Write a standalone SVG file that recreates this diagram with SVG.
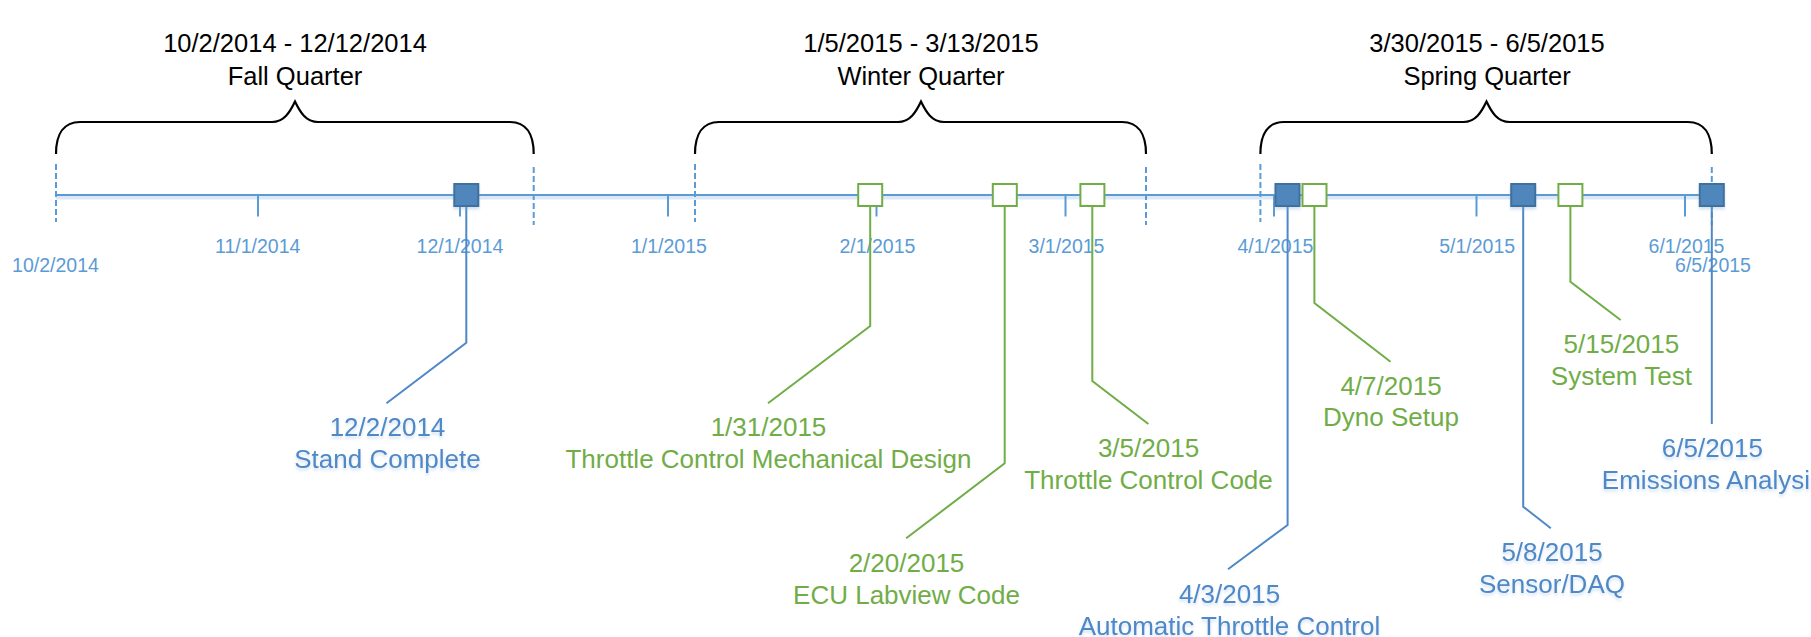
<svg xmlns="http://www.w3.org/2000/svg" width="1811" height="637" viewBox="0 0 1811 637">
<defs>
<filter id="sh" x="-10%" y="-30%" width="120%" height="180%">
<feDropShadow dx="0" dy="2.5" stdDeviation="1.6" flood-color="#7FA7D6" flood-opacity="0.35"/>
</filter>
<style>
.axis{stroke:#5B9BD5;stroke-width:2;fill:none}
.tick{stroke:#5B9BD5;stroke-width:2}
.dash{stroke:#5B9BD5;stroke-width:2;stroke-dasharray:6 3}
.brace{stroke:#000;stroke-width:2.2;fill:none}
.tl{font-family:"Liberation Sans",Arial,sans-serif;font-size:19.5px;fill:#5B9BD5;text-anchor:middle}
.qt{font-family:"Liberation Sans",Arial,sans-serif;font-size:25.5px;fill:#000;text-anchor:middle}
.ml{font-family:"Liberation Sans",Arial,sans-serif;font-size:26px;text-anchor:middle}
.blueT{fill:#4F88C6}
.greenT{fill:#70AD47}
.bsq{fill:#4F87BD;stroke:#41719C;stroke-width:2}
.gsq{fill:#fff;stroke:#70AD47;stroke-width:2}
.bc{stroke:#4F88C6;stroke-width:2;fill:none}
.gc{stroke:#70AD47;stroke-width:2;fill:none}
</style>
</defs>

<g id="timeline">
<line x1="56" y1="197.5" x2="1700" y2="197.5" stroke="#DCE8F5" stroke-width="4"/>
<line class="axis" x1="56" y1="195" x2="1700" y2="195"/>
<line class="tick" x1="258" y1="195" x2="258" y2="216.5"/>
<line class="tick" x1="460" y1="195" x2="460" y2="216.5"/>
<line class="tick" x1="668" y1="195" x2="668" y2="216.5"/>
<line class="tick" x1="876.5" y1="195" x2="876.5" y2="216.5"/>
<line class="tick" x1="1065.5" y1="195" x2="1065.5" y2="216.5"/>
<line class="tick" x1="1274" y1="195" x2="1274" y2="216.5"/>
<line class="tick" x1="1476.5" y1="195" x2="1476.5" y2="216.5"/>
<line class="tick" x1="1685" y1="195" x2="1685" y2="216.5"/>
<line class="dash" x1="56" y1="164" x2="56" y2="222"/>
<line class="dash" x1="533.7" y1="167" x2="533.7" y2="225"/>
<line class="dash" x1="695" y1="164" x2="695" y2="222"/>
<line class="dash" x1="1146" y1="167" x2="1146" y2="225"/>
<line class="dash" x1="1260.4" y1="164" x2="1260.4" y2="222"/>
<line class="dash" x1="1711.8" y1="167" x2="1711.8" y2="225"/>
<text class="tl" x="55.5" y="271.7">10/2/2014</text>
<text class="tl" x="257.7" y="253.3">11/1/2014</text>
<text class="tl" x="460" y="253.3">12/1/2014</text>
<text class="tl" x="668.9" y="253.3">1/1/2015</text>
<text class="tl" x="877.4" y="253.3">2/1/2015</text>
<text class="tl" x="1066.5" y="253.3">3/1/2015</text>
<text class="tl" x="1275.4" y="253.3">4/1/2015</text>
<text class="tl" x="1477.2" y="253.3">5/1/2015</text>
<text class="tl" x="1686.5" y="253.3">6/1/2015</text>
<text class="tl" x="1713" y="271.7">6/5/2015</text>
</g>

<g id="fall-quarter">
<path class="brace" d="M56,154 C56,134 64,122 80,122 H272 C284,122 290,112 295,101.5 C300,112 306,122 318,122 H510 C526,122 533.7,134 533.7,154"/>
<text class="qt" x="295" y="51.7">10/2/2014 - 12/12/2014</text>
<text class="qt" x="295" y="84.5">Fall Quarter</text>
</g>

<g id="winter-quarter">
<path class="brace" d="M695,154 C695,134 703,122 719,122 H898 C910,122 916,112 921,101.5 C926,112 932,122 944,122 H1122 C1138,122 1146,134 1146,154"/>
<text class="qt" x="921" y="51.7">1/5/2015 - 3/13/2015</text>
<text class="qt" x="921" y="84.5">Winter Quarter</text>
</g>

<g id="spring-quarter">
<path class="brace" d="M1260.4,154 C1260.4,134 1268,122 1284,122 H1463.5 C1475.5,122 1481.5,112 1486.5,101.5 C1491.5,112 1497.5,122 1509.5,122 H1688 C1704,122 1711.8,134 1711.8,154"/>
<text class="qt" x="1487" y="51.7">3/30/2015 - 6/5/2015</text>
<text class="qt" x="1487" y="84.5">Spring Quarter</text>
</g>

<g id="connectors">
<polyline class="bc" points="466.3,206 466.3,342.7 386.5,403.3"/>
<polyline class="gc" points="870.2,206 870.2,326 768,403.3"/>
<polyline class="gc" points="1004.7,206 1004.7,463.3 906.2,538.3"/>
<polyline class="gc" points="1092.3,206 1092.3,381 1148.4,424"/>
<polyline class="bc" points="1287.6,206 1287.6,525 1228,569.3"/>
<polyline class="gc" points="1314.4,206 1314.4,303 1390.5,361.7"/>
<polyline class="bc" points="1523.2,206 1523.2,506.7 1550.8,528.3"/>
<polyline class="gc" points="1570.4,206 1570.4,281.7 1620.6,320"/>
<polyline class="bc" points="1711.8,206 1711.8,424"/>
</g>

<g id="m-stand-complete">
<rect class="bsq" x="454.3" y="184" width="24" height="22" filter="url(#sh)"/>
<text class="ml blueT" x="387.5" y="435.7" filter="url(#sh)">12/2/2014</text>
<text class="ml blueT" x="387.5" y="468" filter="url(#sh)">Stand Complete</text>
</g>
<g id="m-throttle-mech">
<rect class="gsq" x="858.2" y="184" width="24" height="22"/>
<text class="ml greenT" x="768.5" y="435.7">1/31/2015</text>
<text class="ml greenT" x="768.5" y="467.5">Throttle Control Mechanical Design</text>
</g>
<g id="m-ecu-labview">
<rect class="gsq" x="992.8" y="184" width="24" height="22"/>
<text class="ml greenT" x="906.5" y="571.7">2/20/2015</text>
<text class="ml greenT" x="906.5" y="604">ECU Labview Code</text>
</g>
<g id="m-throttle-code">
<rect class="gsq" x="1080.4" y="184" width="24" height="22"/>
<text class="ml greenT" x="1148.5" y="456.7">3/5/2015</text>
<text class="ml greenT" x="1148.5" y="489.3">Throttle Control Code</text>
</g>
<g id="m-auto-throttle">
<rect class="bsq" x="1275.5" y="184" width="24" height="22" filter="url(#sh)"/>
<text class="ml blueT" x="1229.5" y="603.3" filter="url(#sh)">4/3/2015</text>
<text class="ml blueT" x="1229.5" y="635" filter="url(#sh)">Automatic Throttle Control</text>
</g>
<g id="m-dyno">
<rect class="gsq" x="1302.5" y="184" width="24" height="22"/>
<text class="ml greenT" x="1391" y="395">4/7/2015</text>
<text class="ml greenT" x="1391" y="426">Dyno Setup</text>
</g>
<g id="m-sensor">
<rect class="bsq" x="1511.2" y="184" width="24" height="22" filter="url(#sh)"/>
<text class="ml blueT" x="1552" y="560.7" filter="url(#sh)">5/8/2015</text>
<text class="ml blueT" x="1552" y="593" filter="url(#sh)">Sensor/DAQ</text>
</g>
<g id="m-system-test">
<rect class="gsq" x="1558.4" y="184" width="24" height="22"/>
<text class="ml greenT" x="1621.4" y="353.3">5/15/2015</text>
<text class="ml greenT" x="1621.4" y="385">System Test</text>
</g>
<g id="m-emissions">
<rect class="bsq" x="1699.8" y="184" width="24" height="22" filter="url(#sh)"/>
<text class="ml blueT" x="1712.4" y="456.7" filter="url(#sh)">6/5/2015</text>
<text class="ml blueT" x="1712.4" y="489" filter="url(#sh)">Emissions Analysis</text>
</g>
</svg>
